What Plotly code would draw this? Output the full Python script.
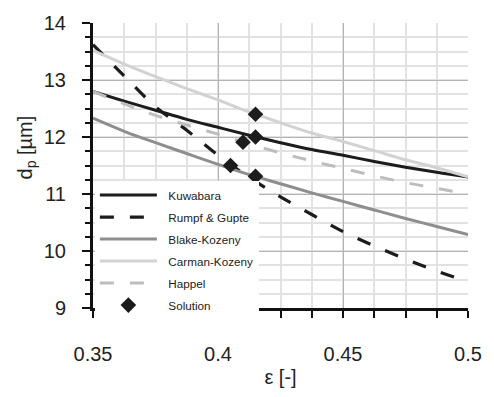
import plotly.graph_objects as go

eps = [0.35, 0.3625, 0.375, 0.3875, 0.4, 0.4125, 0.425, 0.4375, 0.45, 0.4625, 0.475, 0.4875, 0.5]
kuwabara = [12.80, 12.63, 12.47, 12.31, 12.17, 12.03, 11.90, 11.78, 11.68, 11.57, 11.47, 11.38, 11.30]
rumpf_gupte = [13.62, 13.07, 12.53, 12.12, 11.68, 11.29, 10.95, 10.64, 10.34, 10.09, 9.86, 9.65, 9.46]
blake_kozeny = [12.33, 12.10, 11.90, 11.71, 11.52, 11.34, 11.18, 11.02, 10.87, 10.72, 10.57, 10.43, 10.29]
carman_kozeny = [13.52, 13.28, 13.06, 12.85, 12.65, 12.44, 12.25, 12.07, 11.92, 11.76, 11.60, 11.46, 11.30]
happel = [12.80, 12.58, 12.38, 12.21, 12.05, 11.88, 11.72, 11.58, 11.45, 11.32, 11.20, 11.10, 11.00]

sol_eps = [0.415, 0.415, 0.41, 0.405, 0.415]
sol_dp = [12.40, 12.00, 11.91, 11.50, 11.31]

x_ticks = [0.35, 0.4, 0.45, 0.5]
x_ticklabels = ["0.35", "0.4", "0.45", "0.5"]
y_ticks = [9, 10, 11, 12, 13, 14]

DASH = "14px,16px"
series = [
    ("Kuwabara", kuwabara, "#1c1c1c", 3, "solid"),
    ("Rumpf & Gupte", rumpf_gupte, "#1c1c1c", 3.2, DASH),
    ("Blake-Kozeny", blake_kozeny, "#8e8e8e", 3, "solid"),
    ("Carman-Kozeny", carman_kozeny, "#d2d2d2", 3, "solid"),
    ("Happel", happel, "#bdbdbd", 3, DASH),
]

PAD = "\u00a0\u00a0"
fig = go.Figure()
for i, (name, ys, col, w, dash) in enumerate(series):
    fig.add_trace(go.Scatter(
        x=eps, y=ys, mode="lines", name=PAD + name,
        line=dict(color=col, width=w, dash=dash, shape="spline"),
        legendgroup=f"g{i}",
    ))
fig.add_trace(go.Scatter(
    x=sol_eps, y=sol_dp, mode="markers", name=PAD + "Solution",
    marker=dict(symbol="diamond", size=12, color="#1c1c1c"),
    legendgroup="g9",
))

FONT = "Liberation Sans, Arial, sans-serif"
fig.update_layout(
    width=494, height=397,
    margin=dict(l=93, r=17, t=12, b=78),
    paper_bgcolor="white", plot_bgcolor="white",
    font=dict(family=FONT, color="#222"),
    showlegend=True,
    legend=dict(
        x=0.005, y=0.447, xanchor="left", yanchor="top",
        bgcolor="white", borderwidth=0,
        font=dict(size=11.7, family=FONT, color="#222"),
        itemwidth=57, tracegroupgap=3,
    ),
    xaxis=dict(
        range=[0.35, 0.5], tickvals=x_ticks, ticktext=x_ticklabels,
        showgrid=True, gridcolor="#b3b3b3", gridwidth=1.3,
        showline=True, linecolor="#111", linewidth=3,
        ticks="outside", ticklen=7, tickwidth=1.5, tickcolor="#111",
        tickfont=dict(size=20, family=FONT, color="#222"),
        ticklabelstandoff=19,
        minor=dict(dtick=0.0125, showgrid=True, gridcolor="#e2e2e2", gridwidth=1.5,
                   ticks="outside", ticklen=7, tickwidth=1.5, tickcolor="#111"),
        title=dict(text="ε [-]", font=dict(size=20, family=FONT, color="#222"), standoff=6),
        zeroline=False, mirror=False,
    ),
    yaxis=dict(
        range=[9, 14], tickvals=y_ticks,
        showgrid=True, gridcolor="#b3b3b3", gridwidth=1.3,
        showline=True, linecolor="#111", linewidth=3,
        ticks="outside", ticklen=8, tickwidth=1.5, tickcolor="#111",
        tickfont=dict(size=20, family=FONT, color="#222"),
        ticklabelstandoff=12,
        minor=dict(dtick=0.25, showgrid=True, gridcolor="#e2e2e2", gridwidth=1.5,
                   ticks="outside", ticklen=5, tickwidth=1.5, tickcolor="#111"),
        zeroline=False,
    ),
    annotations=[dict(
        text="d<sub>p</sub> [µm]", xref="paper", yref="paper",
        x=-0.177, y=0.562, xanchor="center", yanchor="middle",
        textangle=-90, showarrow=False,
        font=dict(size=20, family=FONT, color="#222"),
    )],
)

fig.write_html("out.html")
